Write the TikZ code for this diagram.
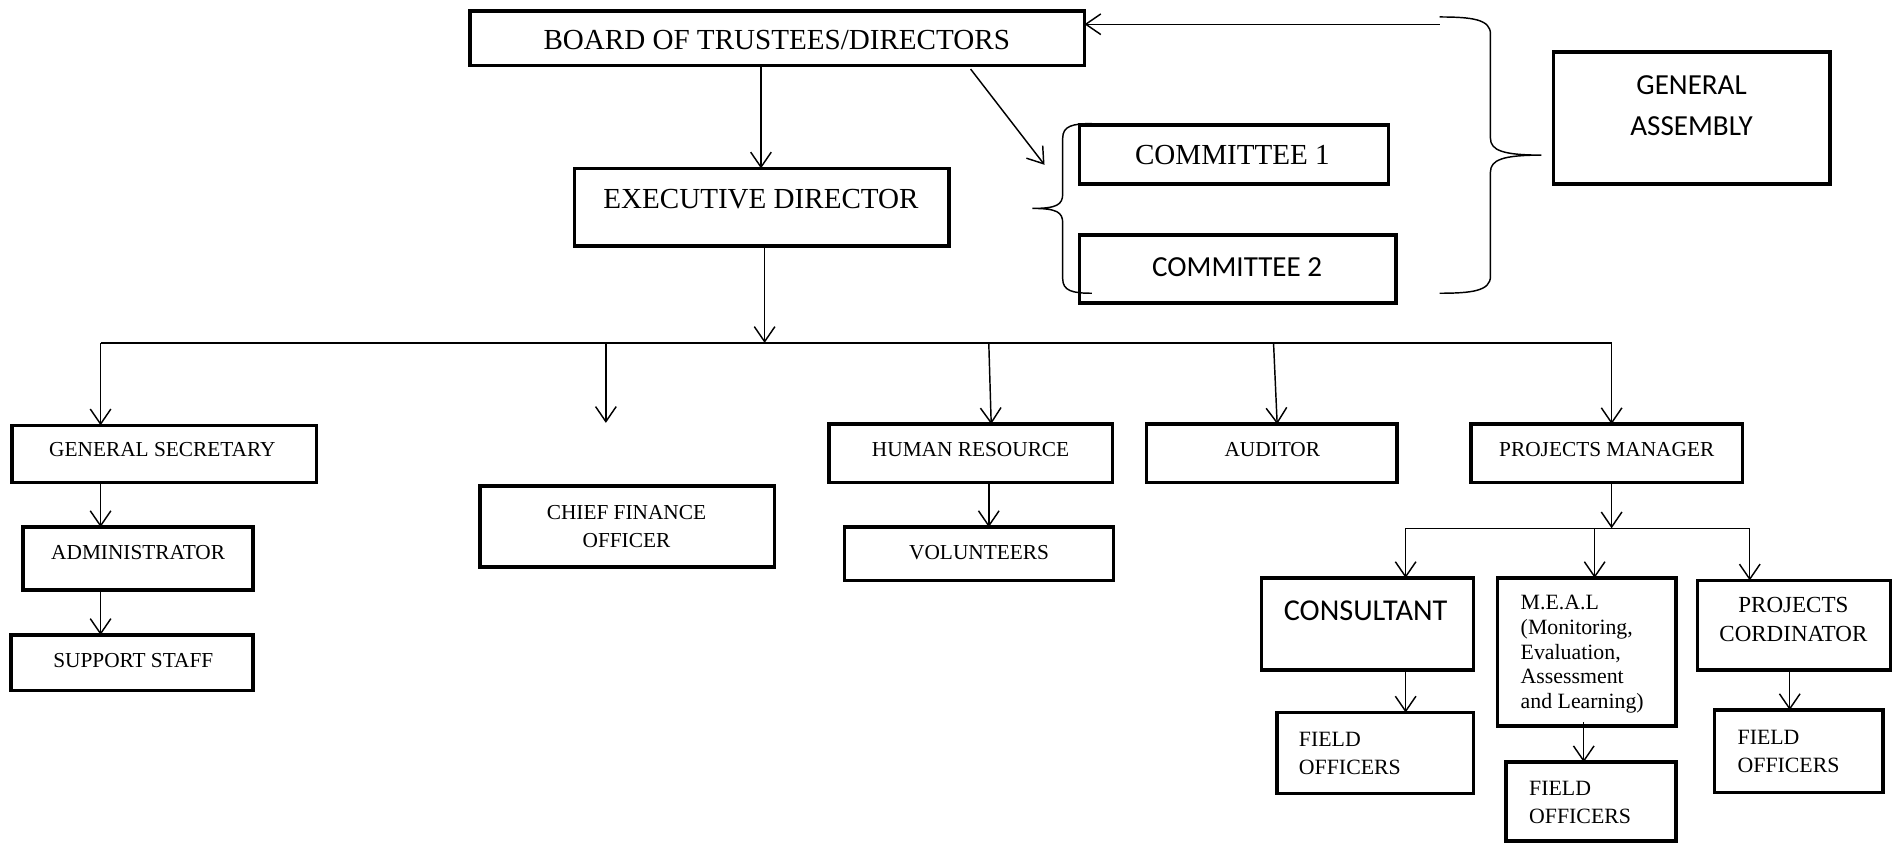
\documentclass[tikz,border=0pt]{standalone}
\usepackage{fontspec}
\setmainfont{Liberation Serif}
\newfontfamily\carl{Carlito}
\usetikzlibrary{arrows.meta}
\tikzset{
  box/.style={draw, line width=1.45pt, inner sep=0pt, outer sep=0pt},
  conn/.style={line width=0.6pt},
  arr/.style={conn, -{Straight Barb[length=6.2pt,width=8.5pt,line width=0.6pt]}},
  tx/.style={inner sep=0pt, outer sep=0pt},
  big/.style={tx, font=\fontsize{12}{14}\selectfont},
  bigsans/.style={tx, font=\carl\fontsize{12}{17}\selectfont},
  sml/.style={tx, font=\fontsize{8.8}{11.5}\selectfont},
  fo/.style={tx, align=left, anchor=north west, font=\fontsize{9}{11.7}\selectfont},
}
\newcommand\bx[5]{\node[box, minimum width={(#4-#2)*0.5pt}, minimum height={(#5-#3)*0.5pt}] (#1) at ({(#2+#4)/2},{(#3+#5)/2}) {};}
\begin{document}
\begin{tikzpicture}[x=0.5pt,y=-0.5pt]
\useasboundingbox (0,0) rectangle (1568,697);
% boxes
\bx{board}{388}{9}{895}{54}
\bx{ed}{474}{139}{783}{203}
\bx{c1}{891}{103}{1146}{152}
\bx{c2}{891}{194}{1152}{250}
\bx{ga}{1282}{43}{1510}{152}
\bx{gs}{10}{351}{261}{398}
\bx{adm}{19}{435}{209}{487}
\bx{ss}{9}{524}{209}{570}
\bx{cfo}{396}{401}{639}{468}
\bx{hr}{684}{350}{918}{398}
\bx{vol}{697}{435}{919}{479}
\bx{aud}{946}{350}{1153}{398}
\bx{pm}{1214}{350}{1438}{398}
\bx{con}{1041}{477}{1216}{553}
\bx{meal}{1236}{477}{1383}{599}
\bx{pc}{1401}{479}{1560}{553}
\bx{fo1}{1054}{588}{1216}{655}
\bx{fo2}{1243}{629}{1383}{694}
\bx{fo3}{1415}{586}{1554}{654}
% texts
\node[big, anchor=base] (boardt) at (641,41) {BOARD OF TRUSTEES/DIRECTORS};
\node[big, anchor=base] (edt) at (628,172) {EXECUTIVE DIRECTOR};
\node[big, anchor=base] (c1t) at (1017,136) {COMMITTEE 1};
\node[bigsans, anchor=base] (c2t) at (1021,228) {COMMITTEE 2};
\node[bigsans, anchor=north, align=center] (gat) at (1396,62) {GENERAL\\ASSEMBLY};
\node[sml, anchor=base] (gst) at (134,377) {GENERAL SECRETARY};
\node[sml, anchor=base] (admt) at (114,462) {ADMINISTRATOR};
\node[sml, anchor=base] (sst) at (110,551) {SUPPORT STAFF};
\node[sml, anchor=north, align=center] (cfot) at (517,417) {CHIEF FINANCE\\OFFICER};
\node[sml, anchor=base] (hrt) at (801,377) {HUMAN RESOURCE};
\node[sml, anchor=base] (volt) at (808,462) {VOLUNTEERS};
\node[sml, anchor=base] (audt) at (1050,377) {AUDITOR};
\node[sml, anchor=base] (pmt) at (1326,377) {PROJECTS MANAGER};
\node[tx, anchor=base, font=\carl\fontsize{12.5}{15}\selectfont] (cont) at (1127,512) {CONSULTANT};
\node[tx, anchor=north west, align=left, font=\fontsize{9}{10.25}\selectfont] (mealt) at (1255,491) {M.E.A.L\\(Monitoring,\\Evaluation,\\Assessment\\and Learning)};
\node[tx, anchor=north, align=center, font=\fontsize{9.5}{12}\selectfont] (pct) at (1480,493) {PROJECTS\\CORDINATOR};
\node[fo] (fo1t) at (1072,604) {FIELD\\OFFICERS};
\node[fo, font=\fontsize{9}{11.5}\selectfont] (fo2t) at (1262,645) {FIELD\\OFFICERS};
\node[fo, font=\fontsize{9}{11.5}\selectfont] (fo3t) at (1434,603) {FIELD\\OFFICERS};
% coordinates
\coordinate (dg) at (801,57);
\coordinate (dgTip) at (862,136);
\coordinate (gaA) at (1188,20);
\coordinate (bus) at (631,283);
\coordinate (bL) at (83,283);
\coordinate (bR) at (1330,283);
\coordinate (b2) at (500,283);
\coordinate (b2Tip) at (500,349);
\coordinate (b3) at (816,283);
\coordinate (b4) at (1051,283);
\coordinate (sb) at (1330,436);
\coordinate (sbL) at (1160,436);
\coordinate (sbM) at (1316,436);
\coordinate (sbR) at (1444,436);
\coordinate (cbT) at (901,102);
\coordinate (cbM) at (852,172);
\coordinate (cbB) at (901,242);
\coordinate (gbT) at (1188,14);
\coordinate (gbM) at (1272,128);
\coordinate (gbB) at (1188,242);
% top connectors
\draw[arr] (board.south -| 628,0) -- (ed.north -| 628,0);
\draw[arr] (dg) -- (dgTip);
\draw[arr] (gaA) -- (gaA -| board.east);
% braces
\draw[conn] (cbT) .. controls (885,102) and (877,104) .. (877,114) -- (877,160)
  .. controls (877,169) and (872,172) .. (cbM)
  .. controls (872,172) and (877,175) .. (877,184) -- (877,230)
  .. controls (877,240) and (885,242) .. (cbB);
\draw[conn] (gbT) .. controls (1215,14) and (1230,16) .. (1230,28) -- (1230,114)
  .. controls (1230,124) and (1240,128) .. (gbM)
  .. controls (1240,128) and (1230,132) .. (1230,142) -- (1230,228)
  .. controls (1230,240) and (1215,242) .. (gbB);
% main bus
\draw[arr] (ed.south -| bus) -- (bus);
\draw[conn] (bL) -- (bR);
\draw[arr] (bL) -- (bL |- gs.north);
\draw[arr] (b2) -- (b2Tip);
\draw[arr] (b3) -- ([xshift=1pt]b3 |- hr.north);
\draw[arr] (b4) -- ([xshift=1.5pt]b4 |- aud.north);
\draw[arr] (bR) -- (bR |- pm.north);
% left column
\draw[arr] (gs.south -| bL) -- (adm.north -| bL);
\draw[arr] (adm.south -| bL) -- (ss.north -| bL);
% HR
\draw[arr] (hr.south -| b3) -- (vol.north -| b3);
% projects
\draw[arr] (pm.south -| sb) -- (sb);
\draw[conn] (sbL) -- (sbR);
\draw[arr] (sbL) -- (sbL |- con.north);
\draw[arr] (sbM) -- (sbM |- meal.north);
\draw[arr] (sbR) -- (sbR |- pc.north);
\draw[arr] (con.south -| sbL) -- (fo1.north -| sbL);
\draw[arr] ([yshift=1.5pt]meal.south -| 1307,0) -- (fo2.north -| 1307,0);
\draw[arr] (pc.south -| 1477,0) -- (fo3.north -| 1477,0);
\end{tikzpicture}
\end{document}
